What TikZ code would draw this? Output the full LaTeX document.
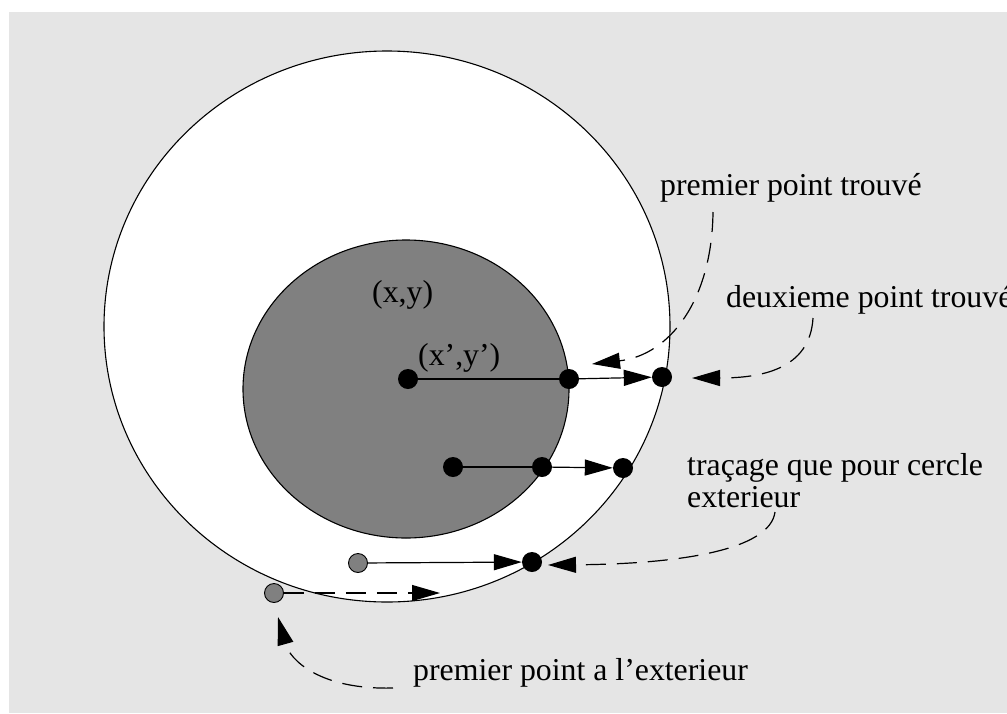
\documentclass[tikz,border=0pt]{standalone}
\usepackage{fontspec}
\setmainfont{Liberation Serif}
\usetikzlibrary{arrows.meta}
\definecolor{bggray}{HTML}{E5E5E5}
\definecolor{diskgray}{HTML}{808080}

\begin{document}
\begin{tikzpicture}[x=1pt, y=-1pt,
  dot/.style={circle, fill=black, inner sep=0pt, minimum size=20pt},
  greydot/.style={circle, fill=diskgray, draw=black, line width=0.9pt, inner sep=0pt, minimum size=19pt},
  lbl/.style={font=\fontsize{31.8}{32}\selectfont, inner sep=0pt, anchor=base west},
  ray/.style={line width=1.2pt, -{Triangle[length=28pt, width=16pt]}},
  hint/.style={ray, dash pattern=on 20pt off 11pt}]
  % page in pixel units, y downwards
  \useasboundingbox (0,0) rectangle (1007,713);
  \fill[bggray] (9,12) rectangle (1007,713);
  % outer and inner circles
  \draw[fill=white, line width=1.1pt] (387,326.5) ellipse [x radius=283pt, y radius=275.5pt];
  \draw[fill=diskgray, line width=1.1pt] (406,389) ellipse [x radius=163pt, y radius=149pt];
  % points, row by row
  \node[dot] (c1) at (408,379) {};
  \node[dot] (i1) at (569,379) {};
  \node[dot] (o1) at (662,377) {};
  \node[dot] (c2) at (453,467) {};
  \node[dot] (i2) at (542,467) {};
  \node[dot] (o2) at (623,468) {};
  \node[greydot] (g3) at (358,563) {};
  \node[dot] (o3) at (532,562) {};
  \node[greydot] (gout) at (274,593) {};
  \coordinate (gtip) at (440,593);
  % scan lines
  \draw[line width=1.2pt] (c1) -- (i1);
  \draw[ray] (i1) -- (o1);
  \draw[line width=1.2pt] (c2) -- (i2);
  \draw[ray] (i2) -- (o2);
  \draw[ray] (g3) -- (o3);
  \draw[hint] (gout) -- (gtip);
  % labels
  \node[lbl] (txy) at (372,302) {(x,y)};
  \node[lbl] (txyp) at (418,365) {(x’,y’)};
  \node[lbl] (tPremier) at (660,195) {premier point trouvé};
  \node[lbl] (tDeux) at (726,307) {deuxieme point trouvé};
  \node[lbl] (tTrac) at (687,475) {traçage que pour cercle};
  \node[lbl] (tExt) at (687,507) {exterieur};
  \node[lbl] (tDehors) at (413,680) {premier point a l’exterieur};
  % dashed pointers from the labels
  \coordinate (sPremier) at (713,212);
  \coordinate (ePremier) at (592,364);
  \coordinate (sDeux) at (813,318);
  \coordinate (eDeux) at (692,378);
  \coordinate (sExt) at (775,512);
  \coordinate (eExt) at (548,565);
  \coordinate (sDehors) at (393,688);
  \coordinate (eDehors) at (278,617);
  \draw[hint] (sPremier) .. controls (712,300) and (670,355) .. (ePremier);
  \draw[hint] (sDeux) .. controls (810,370) and (760,378) .. (eDeux);
  \draw[hint] (sExt) .. controls (770,550) and (680,564) .. (eExt);
  \draw[hint] (sDehors) .. controls (320,690) and (290,660) .. (eDehors);
\end{tikzpicture}
\end{document}
